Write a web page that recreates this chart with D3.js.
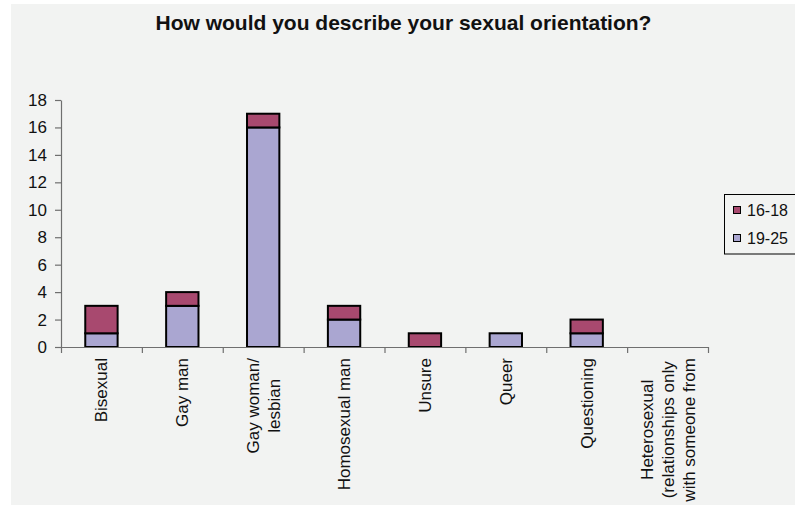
<!DOCTYPE html>
<html>
<head>
<meta charset="utf-8">
<script src="https://cdn.jsdelivr.net/npm/d3@7"></script>
<style>
  html, body { margin: 0; padding: 0; background: #ffffff; }
  svg { display: block; font-family: "Liberation Sans", Arial, sans-serif; }
</style>
</head>
<body>
<svg id="chart" width="795" height="505"></svg>
<script>
// Survey answers by age group
const categories = [
  ["Bisexual"],
  ["Gay man"],
  ["Gay woman/", "lesbian"],
  ["Homosexual man"],
  ["Unsure"],
  ["Queer"],
  ["Questioning"],
  ["Heterosexual", "(relationships only", "with someone from"]
];
const age19to25 = [1, 3, 16, 2, 0, 1, 1, 0];
const age16to18 = [2, 1, 1, 1, 1, 0, 1, 0];
const seriesNames = ["16-18", "19-25"];
const yTicks = [0, 2, 4, 6, 8, 10, 12, 14, 16, 18];
const titleText = "How would you describe your sexual orientation?";

const colors = { "16-18": "#a8496f", "19-25": "#aaa6d1" };

const svg = d3.select("#chart");

// chart area background
svg.append("rect")
  .attr("x", 11).attr("y", 4)
  .attr("width", 784).attr("height", 501)
  .attr("fill", "#f2f3f2");

const margin = { left: 61, right: 708, top: 100, bottom: 347 };

const keys = categories.map((c, i) => i);
const x = d3.scaleBand()
  .domain(keys)
  .range([margin.left, margin.right])
  .paddingInner(0.6)
  .paddingOuter(0.3);

const bandStep = (margin.right - margin.left) / categories.length;

const y = d3.scaleLinear()
  .domain([0, 18])
  .range([margin.bottom, margin.top]);

// stacked series: 19-25 at the bottom, 16-18 on top
const rows = keys.map(i => ({ key: i, "19-25": age19to25[i], "16-18": age16to18[i] }));
const stack = d3.stack().keys(["19-25", "16-18"]);
const layers = stack(rows);

const barW = bandStep / 2.5;

svg.append("g").selectAll("g")
  .data(layers)
  .join("g")
  .attr("fill", d => colors[d.key])
  .selectAll("rect")
  .data(d => d.filter(p => p[1] - p[0] > 0))
  .join("rect")
  .attr("x", d => margin.left + bandStep * (d.data.key + 0.5) - barW / 2)
  .attr("y", d => y(d[1]))
  .attr("width", barW)
  .attr("height", d => y(d[0]) - y(d[1]))
  .attr("stroke", "#000")
  .attr("stroke-width", 2);

// y axis
const yAxis = d3.axisLeft(y)
  .tickValues(yTicks)
  .tickSize(6)
  .tickPadding(8)
  .tickSizeOuter(0);
const gy = svg.append("g")
  .attr("transform", `translate(${margin.left},0)`)
  .call(yAxis);
gy.select(".domain").attr("stroke", "#6f6f6f").attr("stroke-width", 1.2);
gy.selectAll(".tick line").attr("stroke", "#6f6f6f").attr("stroke-width", 1.2);
gy.selectAll(".tick text")
  .attr("font-size", 17)
  .attr("font-family", "Liberation Sans, Arial, sans-serif")
  .attr("fill", "#111");

// x axis with ticks on category boundaries
const xEdge = d3.scaleLinear()
  .domain([0, categories.length])
  .range([margin.left, margin.right]);
const xAxis = d3.axisBottom(xEdge)
  .tickValues(d3.range(0, categories.length + 1))
  .tickSize(6)
  .tickSizeOuter(0)
  .tickFormat("");
const gx = svg.append("g")
  .attr("transform", `translate(0,${margin.bottom})`)
  .call(xAxis);
gx.select(".domain").attr("stroke", "#6f6f6f").attr("stroke-width", 1.2);
gx.selectAll(".tick line").attr("stroke", "#6f6f6f").attr("stroke-width", 1.2);

// rotated category labels
const lineGap = 21;
const labelTop = 358;
const labels = svg.append("g")
  .attr("font-size", 17)
  .attr("fill", "#111");
categories.forEach((lines, i) => {
  const cx = margin.left + bandStep * (i + 0.5);
  const g = labels.append("g");
  const texts = lines.map((ln, j) =>
    g.append("text")
      .attr("text-anchor", "middle")
      .attr("dy", "0.35em")
      .attr("y", (j - (lines.length - 1) / 2) * lineGap)
      .text(ln));
  const maxLen = d3.max(texts, t => t.node().getComputedTextLength());
  g.attr("transform", `translate(${cx},${labelTop + maxLen / 2}) rotate(-90)`);
});

// title
svg.append("text")
  .attr("x", 403.5)
  .attr("y", 30)
  .attr("text-anchor", "middle")
  .attr("font-size", 21)
  .attr("font-weight", "bold")
  .attr("fill", "#111")
  .text(titleText);

// legend
const legend = svg.append("g");
legend.append("rect")
  .attr("x", 724.5).attr("y", 194.5)
  .attr("width", 80).attr("height", 59.5)
  .attr("fill", "none")
  .attr("stroke", "#000")
  .attr("stroke-width", 1);
seriesNames.forEach((name, i) => {
  const cy = 210 + i * 28;
  legend.append("rect")
    .attr("x", 733.5).attr("y", cy - 3.5)
    .attr("width", 7).attr("height", 7)
    .attr("fill", colors[name])
    .attr("stroke", "#000")
    .attr("stroke-width", 1);
  legend.append("text")
    .attr("x", 747)
    .attr("y", cy)
    .attr("dy", "0.35em")
    .attr("font-size", 16)
    .attr("fill", "#111")
    .text(name);
});
</script>
</body>
</html>
